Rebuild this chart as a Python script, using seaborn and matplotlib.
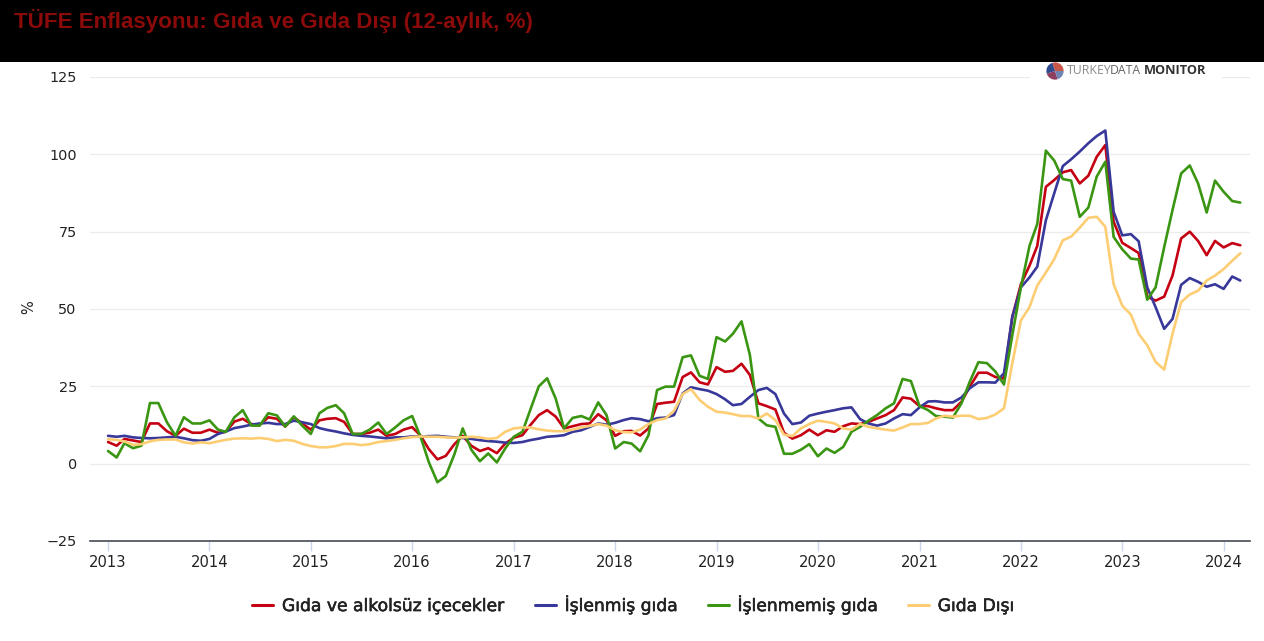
"""
TUFE inflation chart: food and non-food, 12-month change, monthly 2013-2024.
"""

import matplotlib
matplotlib.use("Agg")
import matplotlib.patheffects as pe
import matplotlib.pyplot as plt
import pandas as pd
import seaborn as sns
from matplotlib.patches import Rectangle

TITLE = "TÜFE Enflasyonu: Gıda ve Gıda Dışı (12-aylık, %)"
LABELS = ["Gıda ve alkolsüz içecekler", "İşlenmiş gıda", "İşlenmemiş gıda", "Gıda Dışı"]
COLORS = ["#c40012", "#38389a", "#3a9612", "#fdcd74"]
Y_TICKS = [-25, 0, 25, 50, 75, 100, 125]
YEARS = list(range(2013, 2025))

food = [
    7, 5.8, 8, 7.5, 7, 13, 13, 10.5, 9, 11.3, 10, 10,
    11, 10, 10.3, 13.6, 14.5, 12.8, 12.5, 15, 14.5, 12, 15, 13,
    11, 14, 14.5, 14.7, 13.5, 9.6, 9.6, 10, 11, 9, 9.6, 11,
    11.8, 9, 4.7, 1.4, 2.5, 6.3, 9, 5.8, 4.1, 5, 3.4, 6.5,
    8.4, 9.2, 12.4, 15.7, 17.3, 15.2, 11.4, 12.1, 12.8, 13, 16, 14,
    9, 10.5, 10.6, 9.1, 11.4, 19.3, 19.7, 20, 28, 29.5, 26.3, 25.6,
    31.2, 29.7, 30, 32.3, 28.7, 19.5, 18.6, 17.5, 10, 8.1, 9.2, 11,
    9.2, 10.8, 10.3, 12.1, 13, 12.8, 13.5, 14.6, 15.7, 17.3, 21.4, 21,
    18.6, 18.6, 17.9, 17.3, 17.3, 20, 24.9, 29.4, 29.4, 28, 27.5, 47.4,
    58, 64, 70.4, 89.5, 91.7, 94.2, 94.9, 90.6, 93.1, 99.2, 103, 78.2,
    71.4, 69.7, 68.1, 54, 52.7, 54, 60.8, 72.8, 75, 72, 67.4, 72,
    69.9, 71.3, 70.6,
]
processed = [
    9, 8.7, 9, 8.5, 8.3, 8.2, 8.3, 8.5, 8.7, 8.2, 7.6, 7.4,
    8, 9.6, 10.4, 11.5, 12, 12.6, 13, 13.2, 12.8, 12.8, 13.9, 13.4,
    12.8, 11.5, 10.9, 10.4, 9.8, 9.3, 9, 8.8, 8.5, 8.2, 8.5, 8.5,
    8.8, 8.8, 8.9, 9, 8.7, 8.5, 8.3, 8, 7.6, 7.3, 7.1, 6.8,
    6.7, 7, 7.6, 8.1, 8.7, 8.9, 9.2, 10.3, 10.8, 11.9, 13, 12.6,
    13.2, 14.1, 14.7, 14.4, 13.7, 14.7, 14.9, 15.7, 22.7, 24.7, 24.1, 23.6,
    22.5, 20.8, 18.9, 19.3, 21.6, 23.8, 24.5, 22.5, 16.2, 12.8, 13.3, 15.5,
    16.2, 16.8, 17.3, 17.9, 18.2, 14.4, 13, 12.3, 13, 14.6, 16, 15.7,
    18.2, 20.1, 20.2, 19.8, 19.8, 21.4, 24.4, 26.3, 26.3, 26.2, 29.2, 47.4,
    57, 60.2, 63.7, 78.7, 87.4, 96.2, 98.4, 100.9, 103.6, 105.9, 107.7, 81.4,
    73.8, 74.2, 71.9, 57, 50.6, 43.6, 46.8, 57.8, 60, 58.8, 57.2, 58,
    56.5, 60.5, 59.2,
]
unprocessed = [
    4.1, 2, 6.6, 5, 5.8, 19.6, 19.6, 13.4, 9, 15, 13, 13,
    14, 11, 10.3, 15, 17.3, 12.3, 12.3, 16.3, 15.6, 12, 15.3, 12.3,
    9.6, 16.3, 18, 18.9, 16.3, 9.6, 9.6, 11, 13.3, 9.6, 11.7, 14,
    15.4, 8.5, 0.5, -6, -4, 3, 11.4, 4.5, 0.8, 3.3, 0.4, 4.9,
    8.7, 10.3, 17.3, 25, 27.6, 21, 11.4, 14.8, 15.4, 14.3, 19.8, 15.7,
    4.9, 7, 6.5, 4, 9.2, 23.8, 24.9, 24.9, 34.4, 35, 28.4, 27.4,
    40.9, 39.5, 42, 46, 35.2, 14.6, 12.4, 11.9, 3.2, 3.2, 4.5, 6.3,
    2.4, 4.9, 3.5, 5.4, 10.3, 11.9, 13.9, 15.7, 17.9, 19.5, 27.4, 26.7,
    18.6, 17.3, 15.4, 15.2, 14.9, 19.5, 26.5, 32.8, 32.5, 29.8, 25.6, 41.5,
    57, 70.4, 77.5, 101.2, 98, 92, 91.5, 79.8, 82.8, 92.8, 97.6, 73.3,
    69.3, 66.3, 66, 53, 57, 70, 82, 93.8, 96.4, 90.6, 81.2, 91.5,
    87.9, 84.9, 84.4,
]
non_food = [
    7.9, 7.7, 7.2, 6.1, 6.3, 7.2, 7.7, 7.8, 7.8, 6.9, 6.5, 6.9,
    6.6, 7.2, 7.7, 8.1, 8.2, 8.1, 8.3, 8, 7.3, 7.7, 7.4, 6.4,
    5.7, 5.3, 5.3, 5.7, 6.4, 6.4, 6, 6.3, 7, 7.3, 7.7, 8.2,
    8.6, 8.8, 8.7, 8.7, 8.5, 8.4, 8.5, 8.7, 8.5, 8, 8.3, 10.3,
    11.4, 11.7, 11.7, 11.1, 10.7, 10.5, 10.5, 11, 11.7, 12.2, 12.8, 12.3,
    10.8, 10.2, 10.1, 11, 12.8, 14.1, 14.6, 17.1, 22.5, 24.1, 20.6, 18.4,
    16.8, 16.5, 16, 15.4, 15.4, 14.6, 16.2, 14.1, 9.4, 8.9, 11.4, 12.8,
    13.9, 13.5, 13, 11.4, 11, 12.8, 11.9, 11.4, 11, 10.7, 11.7, 12.8,
    12.8, 13.2, 14.6, 15.5, 15.2, 15.5, 15.5, 14.4, 14.8, 15.9, 17.9, 32.4,
    46.3, 50.6, 57.6, 61.8, 66.1, 72.2, 73.4, 76.3, 79.5, 79.8, 76.6, 58,
    51.1, 48.2, 42, 38.3, 32.9, 30.4, 42, 52.2, 54.7, 55.9, 59.2, 60.8,
    62.9, 65.6, 68,
]


def main():
    months = pd.date_range("2013-01-01", periods=len(food), freq="MS")
    df = pd.DataFrame({"date": months, LABELS[0]: food, LABELS[1]: processed,
                       LABELS[2]: unprocessed, LABELS[3]: non_food})
    long_df = df.melt(id_vars="date", var_name="seri", value_name="deger")

    sns.set_style("white")
    plt.rcParams["font.family"] = ["DejaVu Sans"]

    fig = plt.figure(figsize=(12.64, 6.41), dpi=100)
    ax = fig.add_axes([90 / 1264, 1 - 541 / 641, 1160 / 1264, 464 / 641])

    sns.lineplot(data=long_df, x="date", y="deger", hue="seri", hue_order=LABELS,
                 palette=COLORS, linewidth=1.9, ax=ax, legend=False)

    ax.set_ylim(-25, 125)
    ax.set_xlim(pd.Timestamp("2012-10-28"), pd.Timestamp("2024-04-05"))
    ax.set_yticks(Y_TICKS)
    ax.set_yticklabels([str(v).replace("-", "−") for v in Y_TICKS], fontsize=10.4, color="#222222")
    ax.set_xticks([pd.Timestamp(year=y, month=1, day=1) for y in YEARS])
    ax.set_xticklabels([str(y) for y in YEARS], fontsize=10.6, color="#222222")
    ax.tick_params(axis="y", length=0, pad=9.5)
    ax.tick_params(axis="x", length=7, width=1, color="#ccd6eb", pad=3, bottom=True)
    ax.grid(axis="y", color="#ececec", linewidth=1)
    ax.grid(axis="x", visible=False)
    ax.set_axisbelow(True)
    sns.despine(ax=ax, left=True, top=True, right=True)
    ax.spines["bottom"].set_color("#444a55")
    ax.spines["bottom"].set_linewidth(1.2)
    ax.set_xlabel("")
    ax.set_ylabel("")
    fig.text(29 / 1264, 1 - 307 / 641, "%", rotation=90, ha="center", va="center",
             fontsize=10.5, color="#222222")

    # black band with the title
    fig.add_artist(Rectangle((0, 1 - 62 / 641), 1, 62 / 641, transform=fig.transFigure,
                             facecolor="black", edgecolor="none", zorder=5))
    fig.text(14 / 1264, 1 - 21 / 641, TITLE, ha="left", va="center", fontsize=16.08,
             fontweight="bold", color="#8b0a0a", family="Liberation Sans", zorder=6)

    # logo sits on a white patch over the top gridline
    fig.add_artist(Rectangle((1030 / 1264, 1 - 84 / 641), 192 / 1264, 22 / 641,
                             transform=fig.transFigure, facecolor="white", edgecolor="none", zorder=4))
    logo_ax = fig.add_axes([1046 / 1264, 1 - 80 / 641, 18 / 1264, 18 / 641], zorder=7)
    logo_ax.pie([30, 25, 25, 20], colors=["#c8574a", "#2f4b8f", "#8f3f5f", "#6f86b5"], radius=1.2,
                wedgeprops={"linewidth": 0})
    fig.text(1067 / 1264, 1 - 71 / 641, "TURKEY", ha="left", va="center", fontsize=8.8,
             color="#8a8a8a", family="Open Sans", zorder=7)
    fig.text(1110 / 1264, 1 - 71 / 641, "DATA", ha="left", va="center", fontsize=8.8,
             color="#666666", family="Open Sans", zorder=7)
    fig.text(1144 / 1264, 1 - 71 / 641, "MONITOR", ha="left", va="center", fontsize=9.2,
             fontweight="bold", color="#333333", family="Open Sans", zorder=7)

    handles = [plt.Line2D([], [], color=c, linewidth=2.2) for c in COLORS]
    leg = fig.legend(handles, LABELS, loc="center", bbox_to_anchor=(633 / 1264, 1 - 605 / 641),
                     ncol=4, frameon=False, fontsize=12.35, handlelength=1.25, handletextpad=0.5,
                     columnspacing=1.75, labelcolor="#222222")
    # reference legend text is heavier than regular weight
    for txt in leg.get_texts():
        txt.set_path_effects([pe.withStroke(linewidth=0.4, foreground="#222222")])

    fig.savefig("out.png", dpi=100)


if __name__ == "__main__":
    main()
